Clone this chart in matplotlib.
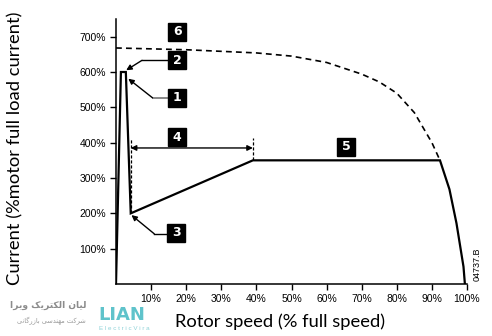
import matplotlib.pyplot as plt

plt.rcParams['font.family'] = ['Liberation Sans', 'DejaVu Sans']

# soft starter current profile (% full speed, % motor FLC)
speed = [0, 1.4, 2.8, 4.2, 39, 92.3, 95, 97, 99, 99.4]
current = [0, 600, 600, 200, 350, 350, 268, 172, 49, 0]

# direct-on-line current curve (dashed)
dol_speed = [0, 20, 40, 50, 60, 70, 75, 80, 85, 90, 92.3]
dol_current = [668, 663, 654, 645, 627, 594, 572, 540, 485, 400, 350]

x_ticks = [10, 20, 30, 40, 50, 60, 70, 80, 90, 100]
y_ticks = [100, 200, 300, 400, 500, 600, 700]

W, H = 492, 336
fig = plt.figure(figsize=(W / 100, H / 100), dpi=100)
ax = fig.add_axes([116 / W, 1 - 284 / H, (467 - 116) / W, 265 / H])
ax.set_xlim(0, 100)
ax.set_ylim(0, 750)

ax.plot(dol_speed, dol_current, color='black', lw=1.2, dashes=(3.5, 2.5))
ax.plot(speed, current, color='black', lw=1.6, solid_joinstyle='miter')

# ramp-time marker (4)
ramp_start, ramp_end = speed[3], speed[4]
ax.plot([ramp_start, ramp_start], [current[3], 412], color='black', lw=0.9, dashes=(2.5, 1.5))
ax.plot([ramp_end, ramp_end], [current[4], 412], color='black', lw=0.9, dashes=(2.5, 1.5))
ax.annotate('', xy=(ramp_start, 385), xytext=(ramp_end, 385),
            arrowprops=dict(arrowstyle='<|-|>', color='black', lw=1,
                            mutation_scale=8, shrinkA=0, shrinkB=0))

arrow_kw = dict(arrowstyle='-|>', color='black', lw=1, mutation_scale=8,
                shrinkA=0, shrinkB=0)
# label 2 -> peak
ax.plot([14.5, 7.4], [633, 633], color='black', lw=1)
ax.annotate('', xy=(2.9, 605), xytext=(7.4, 633), arrowprops=arrow_kw)
# label 1 -> start of current limit
ax.plot([14.5, 10.4], [527, 527], color='#888888', lw=1.4)
ax.annotate('', xy=(3.5, 581), xytext=(10.4, 527), arrowprops=arrow_kw)
# label 3 -> initial current
ax.plot([14.5, 10.9], [142, 142], color='black', lw=1)
ax.annotate('', xy=(4.4, 195), xytext=(10.9, 142), arrowprops=arrow_kw)

labels = [('6', 17.4, 714), ('2', 17.4, 633), ('1', 17.4, 527),
          ('4', 17.4, 416), ('3', 17.2, 145), ('5', 65.6, 389)]
for txt, lx, ly in labels:
    ax.plot(lx, ly, marker='s', ms=13, color='black', mec='black')
    ax.text(lx, ly, txt, color='white', fontsize=9, fontweight='bold',
            ha='center', va='center', family='DejaVu Sans')

ax.set_xticks(x_ticks)
ax.set_xticklabels([f'{v}%' for v in x_ticks])
ax.set_yticks(y_ticks)
ax.set_yticklabels([f'{v}%' for v in y_ticks])
ax.tick_params(direction='out', length=4.5, width=1, labelsize=7.5, pad=2.5)
for s in ['top', 'right']:
    ax.spines[s].set_visible(False)
for s in ['left', 'bottom']:
    ax.spines[s].set_linewidth(1.1)

fig.text(15 / W, 1 - 148 / H, 'Current (%motor full load current)', rotation=90,
         ha='center', va='center', fontsize=13.2, family='Lato', color='black')
fig.text(280 / W, 1 - 322 / H, 'Rotor speed (% full speed)',
         ha='center', va='center', fontsize=13.2, family='Lato', color='black')
fig.text(477 / W, 1 - 264 / H, '04737.B', rotation=90, ha='center', va='center',
         fontsize=6.5)

# watermark
fa_line1 = '\uFE8D\uFEAE\uFBFE\uFEED \uFB8F\uFBFE\uFEAE\uFE98\uFB91\uFEDF\uFE8D \uFEE5\uFE8E\uFBFF\uFEDF'
fa_line2 = '\uFBFD\uFEE7\uFE8E\uFB94\uFEAD\uFEAF\uFE8E\uFE91 \uFBFD\uFEB3\uFEAA\uFEE8\uFEEC\uFEE3 \uFE96\uFB90\uFEAE\uFEB7'
fig.text(86 / W, 1 - 305 / H, fa_line1, ha='right', va='center', fontsize=6.6,
         fontweight='bold', color='#8c8c8c', family='DejaVu Sans')
fig.text(86 / W, 1 - 321 / H, fa_line2, ha='right', va='center', fontsize=4.8,
         color='#9a9a9a', family='DejaVu Sans')
fig.text(122 / W, 1 - 315 / H, 'LIAN', ha='center', va='center', fontsize=13,
         fontweight='bold', color='#5fc3cb', family='DejaVu Sans')
fig.text(124 / W, 1 - 329 / H, 'E l e c t r i c V i r a', ha='center', va='center',
         fontsize=4.5, color='#8fd3d8')

fig.savefig('out.png', dpi=100)
